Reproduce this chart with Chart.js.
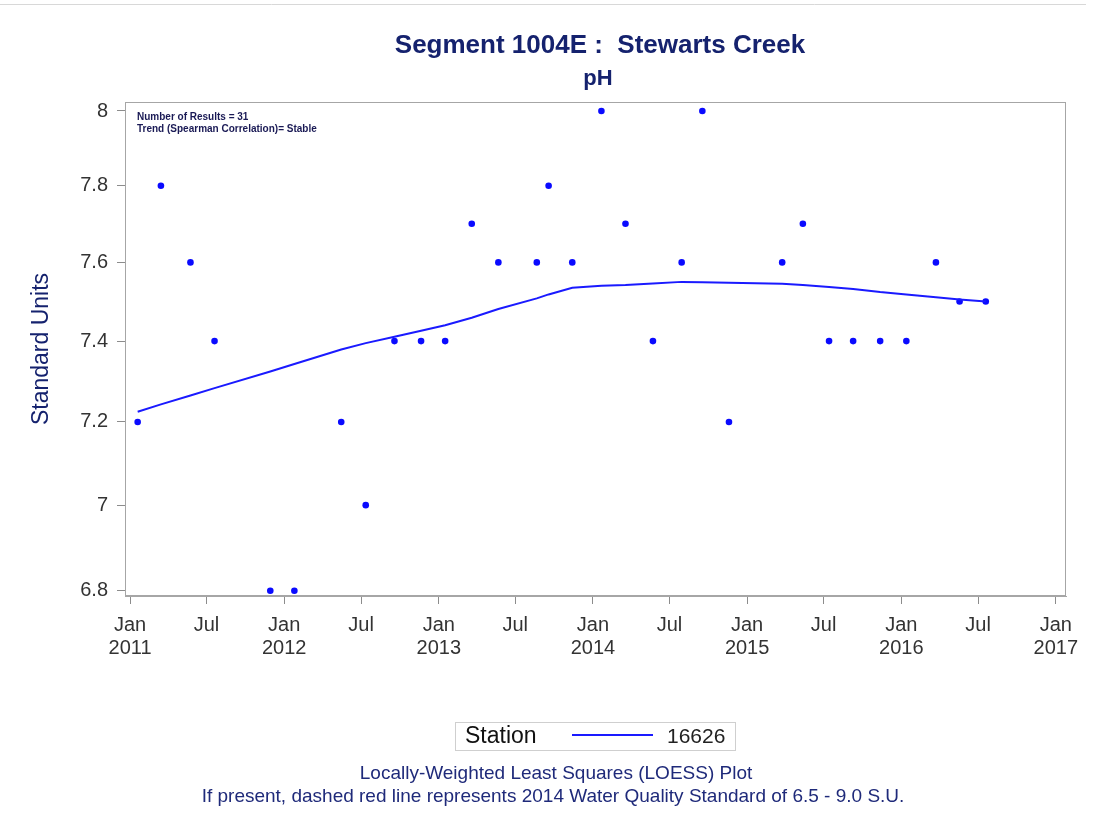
<!DOCTYPE html>
<html>
<head>
<meta charset="utf-8">
<script src="https://cdn.jsdelivr.net/npm/chart.js@4.4.1/dist/chart.umd.min.js"></script>
<style>
  html, body { margin: 0; padding: 0; background: #ffffff; }
  #wrap { position: relative; width: 1095px; height: 823px; }
</style>
</head>
<body>
<div id="wrap"><canvas id="c" width="1095" height="823"></canvas></div>
<script>
// ---- Data ----
const sampleDates = [
  '2011-01-19','2011-03-15','2011-05-24','2011-07-20','2011-11-29',
  '2012-01-25','2012-05-15','2012-07-12','2012-09-18','2012-11-20',
  '2013-01-16','2013-03-20','2013-05-22','2013-08-21','2013-09-18',
  '2013-11-13','2014-01-21','2014-03-19','2014-05-23','2014-07-30',
  '2014-09-17','2014-11-19','2015-03-25','2015-05-13','2015-07-14',
  '2015-09-09','2015-11-12','2016-01-13','2016-03-23','2016-05-18',
  '2016-07-19'
];
const phValues = [
  7.2, 7.8, 7.6, 7.4, 6.8,
  6.8, 7.2, 7.0, 7.4, 7.4,
  7.4, 7.7, 7.6, 7.6, 7.8,
  7.6, 8.0, 7.7, 7.4, 7.6,
  8.0, 7.2, 7.6, 7.7, 7.4,
  7.4, 7.4, 7.4, 7.6, 7.5,
  7.5
];
const loessValues = [
  7.225, 7.243, 7.265, 7.283, 7.324,
  7.343, 7.379, 7.395, 7.411, 7.426,
  7.440, 7.459, 7.481, 7.508, 7.518,
  7.535, 7.540, 7.542, 7.546, 7.550,
  7.549, 7.548, 7.545, 7.542, 7.537,
  7.532, 7.524, 7.518, 7.511, 7.505,
  7.500
];
const xTickDates = [
  '2011-01-01','2011-07-01','2012-01-01','2012-07-01','2013-01-01','2013-07-01',
  '2014-01-01','2014-07-01','2015-01-01','2015-07-01','2016-01-01','2016-07-01','2017-01-01'
];
const yTickValues = [6.8, 7.0, 7.2, 7.4, 7.6, 7.8, 8.0];
const stationName = '16626';
const titleText = 'Segment 1004E :  Stewarts Creek';
const subtitleText = 'pH';
const yAxisTitle = 'Standard Units';
const insetLines = ['Number of Results = 31', 'Trend (Spearman Correlation)= Stable'];
const footnotes = [
  'Locally-Weighted Least Squares (LOESS) Plot',
  'If present, dashed red line represents 2014 Water Quality Standard of 6.5 - 9.0 S.U.'
];
const monthNames = ['Jan','Feb','Mar','Apr','May','Jun','Jul','Aug','Sep','Oct','Nov','Dec'];

// ---- Build ----
const toMs = s => Date.parse(s + 'T00:00:00Z');
const pointData = sampleDates.map((d, i) => ({ x: toMs(d), y: phValues[i] }));
const loessData = sampleDates.map((d, i) => ({ x: toMs(d), y: loessValues[i] }));
const FONT = "'Liberation Sans', Arial, Helvetica, sans-serif";
const NAVY = '#15226e';

const decor = {
  id: 'decor',
  beforeDraw(chart) {
    const ctx = chart.ctx;
    ctx.save();
    ctx.fillStyle = '#ffffff';
    ctx.fillRect(0, 0, chart.width, chart.height);
    ctx.strokeStyle = '#d8d8d8';
    ctx.lineWidth = 1;
    ctx.beginPath(); ctx.moveTo(0, 4.5); ctx.lineTo(1086, 4.5); ctx.stroke();
    ctx.restore();
  },
  afterDraw(chart) {
    const ctx = chart.ctx;
    const a = chart.chartArea;
    ctx.save();
    // frame
    ctx.strokeStyle = '#a6a6a6';
    ctx.lineWidth = 1;
    ctx.strokeRect(Math.round(a.left) + 0.5, Math.round(a.top) + 0.5,
                   Math.round(a.right - a.left) - 1, Math.round(a.bottom - a.top) - 1);
    // titles
    ctx.fillStyle = NAVY;
    ctx.textAlign = 'center';
    ctx.textBaseline = 'alphabetic';
    ctx.font = 'bold 26px ' + FONT;
    ctx.fillText(titleText, 600, 53);
    ctx.font = 'bold 22px ' + FONT;
    ctx.fillText(subtitleText, 598, 85);
    // y title
    ctx.save();
    ctx.translate(42, 349);
    ctx.rotate(-Math.PI / 2);
    ctx.font = '23px ' + FONT;
    ctx.textBaseline = 'middle';
    ctx.fillText(yAxisTitle, 0, 0);
    ctx.restore();
    // inset text
    ctx.fillStyle = '#1a1a55';
    ctx.textAlign = 'left';
    ctx.textBaseline = 'middle';
    ctx.font = 'bold 10px ' + FONT;
    ctx.fillText(insetLines[0], 137, 117);
    ctx.fillText(insetLines[1], 137, 129);
    // legend box
    ctx.strokeStyle = '#cfcfcf';
    ctx.strokeRect(455.5, 722.5, 280, 28);
    ctx.fillStyle = '#111111';
    ctx.font = '23px ' + FONT;
    ctx.textBaseline = 'middle';
    ctx.fillText('Station', 465, 737);
    ctx.strokeStyle = '#1a1aff';
    ctx.lineWidth = 2;
    ctx.beginPath(); ctx.moveTo(572, 735); ctx.lineTo(653, 735); ctx.stroke();
    ctx.fillStyle = '#222222';
    ctx.font = '21px ' + FONT;
    ctx.fillText(stationName, 667, 737);
    // footnotes
    ctx.fillStyle = '#1f2a7a';
    ctx.textAlign = 'center';
    ctx.font = '19px ' + FONT;
    ctx.fillText(footnotes[0], 556, 774);
    ctx.fillText(footnotes[1], 553, 797);
    ctx.restore();
  }
};

new Chart(document.getElementById('c'), {
  type: 'scatter',
  data: {
    datasets: [
      {
        label: stationName + ' LOESS',
        data: loessData,
        showLine: true,
        borderColor: '#1a1aff',
        borderWidth: 2,
        pointRadius: 0,
        fill: false,
        tension: 0
      },
      {
        label: stationName,
        data: pointData,
        showLine: false,
        backgroundColor: '#0a0aff',
        borderColor: '#0a0aff',
        borderWidth: 0,
        pointRadius: 3.3
      }
    ]
  },
  options: {
    responsive: false,
    animation: false,
    devicePixelRatio: 1,
    layout: { padding: { left: 0, right: 29, top: 102, bottom: 157 } },
    plugins: { legend: { display: false }, title: { display: false }, tooltip: { enabled: false } },
    scales: {
      x: {
        type: 'linear',
        min: Date.UTC(2010, 11, 20),
        max: Date.UTC(2017, 0, 25),
        afterFit: s => { s.height = 70; },
        afterBuildTicks: s => { s.ticks = xTickDates.map(d => ({ value: toMs(d) })); },
        grid: { drawOnChartArea: false, drawTicks: true, tickLength: 8, tickColor: '#8c8c8c' },
        border: { display: true, color: '#a6a6a6' },
        ticks: {
          autoSkip: false,
          maxRotation: 0,
          padding: 10,
          color: '#333333',
          font: { family: FONT, size: 20, lineHeight: 1.15 },
          callback: v => {
            const d = new Date(v);
            const m = d.getUTCMonth();
            return m === 0 ? [monthNames[m], String(d.getUTCFullYear())] : [monthNames[m], ''];
          }
        }
      },
      y: {
        type: 'logarithmic',
        min: 6.7878,
        max: 8.0244,
        afterFit: s => { s.width = 125; },
        afterBuildTicks: s => { s.ticks = yTickValues.map(v => ({ value: v })); },
        grid: { drawOnChartArea: false, drawTicks: true, tickLength: 8, tickColor: '#8c8c8c' },
        border: { display: true, color: '#a6a6a6' },
        ticks: {
          autoSkip: false,
          padding: 9,
          color: '#333333',
          font: { family: FONT, size: 20 },
          callback: v => String(Math.round(v * 10) / 10)
        }
      }
    }
  },
  plugins: [decor]
});
</script>
</body>
</html>
